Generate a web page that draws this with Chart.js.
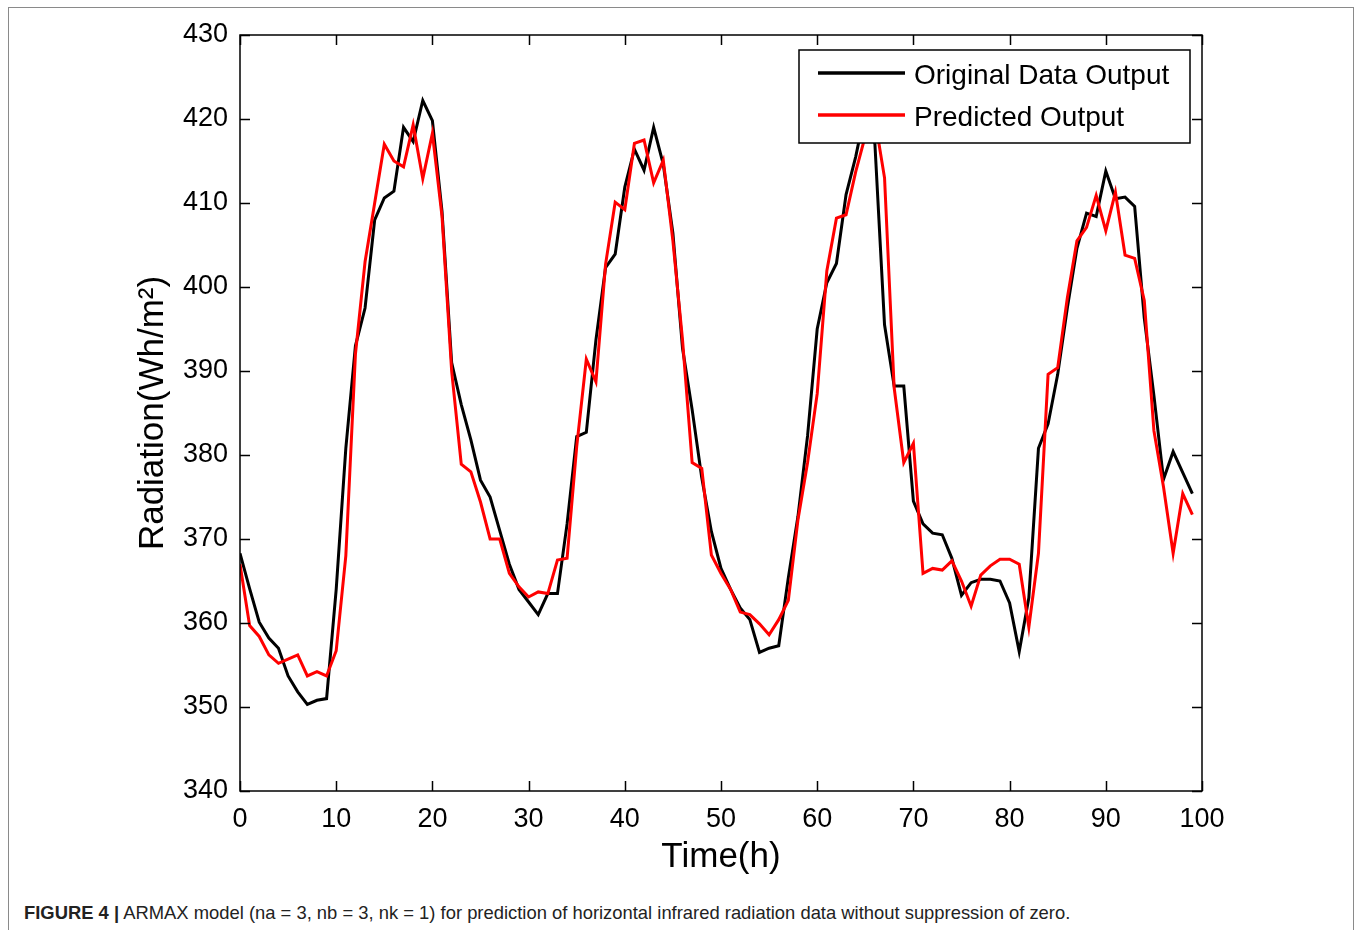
<!DOCTYPE html>
<html>
<head>
<meta charset="utf-8">
<script src="https://cdn.jsdelivr.net/npm/chart.js@4.4.1/dist/chart.umd.min.js"></script>
<style>
  body { margin: 0; background: #fff; }
  #frame { position: absolute; left: 8px; top: 7px; width: 1344px; height: 940px; border: 1px solid #8a8a8a; }
  #wrap { position: absolute; left: 0; top: 0; width: 1356px; height: 880px; }
  #caption { position: absolute; left: 24px; top: 902px; font-family: "Liberation Sans", Arial, sans-serif; font-size: 18.4px; color: #222; white-space: nowrap; }
  #caption b { font-weight: bold; }
</style>
</head>
<body>
<div id="frame"></div>
<div id="wrap"><canvas id="grafico" width="1356" height="880"></canvas></div>
<div id="caption"><b>FIGURE 4 |</b> ARMAX model (na = 3, nb = 3, nk = 1) for prediction of horizontal infrared radiation data without suppression of zero.</div>
<script>
// horas (eje x)
var HOURS = [0,1,2,3,4,5,6,7,8,9,10,11,12,13,14,15,16,17,18,19,
  20,21,22,23,24,25,26,27,28,29,30,31,32,33,34,35,36,37,38,39,
  40,41,42,43,44,45,46,47,48,49,50,51,52,53,54,55,56,57,58,59,
  60,61,62,63,64,65,66,67,68,69,70,71,72,73,74,75,76,77,78,79,
  80,81,82,83,84,85,86,87,88,89,90,91,92,93,94,95,96,97,98,99];

// datos originales
var ORIGINAL = [368.3,364.1,360.1,358.2,357,353.7,351.8,350.3,350.8,351,
  364,380.8,393,397.5,408,410.6,411.4,419,417.3,422.2,
  419.8,409,391,386,381.8,377,375,371,367,364,
  362.5,361,363.5,363.5,371.8,382.2,382.7,393.7,402.3,403.9,
  411.9,416.4,413.9,419,414.6,406.4,392.7,385.4,377.3,370.9,
  366.5,364,361.8,360.4,356.5,357,357.3,365.4,372.7,382.3,
  395,400.5,402.8,411,415.5,421,417,395.5,388.2,388.2,
  374.5,371.8,370.7,370.5,367.7,363.3,364.8,365.2,365.2,365,
  362.4,356.6,363,380.8,383.7,389.6,397.5,404.6,408.8,408.4,
  413.8,410.5,410.7,409.6,396.3,387.1,377.1,380.4,377.9,375.4];

// salida predicha
var PREDICTED = [367,359.7,358.4,356.2,355.2,355.7,356.2,353.7,354.2,353.7,
  356.7,368,392,403,410,417,415,414.3,419.3,412.9,
  418.3,408.4,390,378.9,378,374.4,370,370,365.9,364.3,
  363.1,363.7,363.5,367.5,367.7,381,391.4,388.7,402.7,410.1,
  409.2,417.1,417.5,412.4,415.1,405.5,393.7,379.1,378.4,368.1,
  365.9,364,361.3,361,359.9,358.6,360.4,362.7,372.3,379.1,
  387.3,401.9,408.2,408.6,413.7,418,420,413,388,379.1,
  381.4,365.9,366.5,366.3,367.4,365,362,365.7,366.8,367.6,
  367.6,367,359.5,368.3,389.6,390.4,398.7,405.5,407.1,410.9,
  406.7,411.3,403.8,403.4,398.4,382.9,376.2,368.3,375.4,372.9];

var X_TICKS = [0,10,20,30,40,50,60,70,80,90,100];
var Y_TICKS = [340,350,360,370,380,390,400,410,420,430];

function puntos(vals) {
  var out = [];
  for (var i = 0; i < vals.length; i++) out.push({x: HOURS[i], y: vals[i]});
  return out;
}

// ejes estilo matlab: marco, ticks hacia adentro y leyenda dentro del area
var matlabAxes = {
  id: 'matlabAxes',
  afterDatasetsDraw: function(chart) {
    var ctx = chart.ctx, a = chart.chartArea;
    var xs = chart.scales.x, ys = chart.scales.y;
    var tl = 10;
    ctx.save();
    ctx.strokeStyle = '#000';
    ctx.lineWidth = 1.5;
    ctx.strokeRect(a.left, a.top, a.right - a.left, a.bottom - a.top);
    ctx.beginPath();
    X_TICKS.forEach(function(v) {
      var px = Math.round(xs.getPixelForValue(v)) + 0.5;
      ctx.moveTo(px, a.bottom); ctx.lineTo(px, a.bottom - tl);
      ctx.moveTo(px, a.top); ctx.lineTo(px, a.top + tl);
    });
    Y_TICKS.forEach(function(v) {
      var py = Math.round(ys.getPixelForValue(v)) + 0.5;
      ctx.moveTo(a.left, py); ctx.lineTo(a.left + tl, py);
      ctx.moveTo(a.right, py); ctx.lineTo(a.right - tl, py);
    });
    ctx.stroke();

    // leyenda
    var bx = a.right - 403, by = a.top + 15, bw = 391, bh = 93;
    ctx.fillStyle = '#fff';
    ctx.fillRect(bx, by, bw, bh);
    ctx.lineWidth = 1.5;
    ctx.strokeRect(bx, by, bw, bh);
    ctx.font = '28px "Liberation Sans", Arial, sans-serif';
    ctx.textBaseline = 'middle';
    ctx.textAlign = 'left';
    chart.data.datasets.forEach(function(ds, i) {
      var ly = by + 23 + i * 42;
      ctx.strokeStyle = ds.borderColor;
      ctx.lineWidth = 3.5;
      ctx.beginPath();
      ctx.moveTo(bx + 19, ly); ctx.lineTo(bx + 106, ly);
      ctx.stroke();
      ctx.fillStyle = '#000';
      ctx.fillText(ds.label, bx + 115, ly + 3);
    });
    ctx.restore();
  }
};

var ctx = document.getElementById('grafico').getContext('2d');
window.myChart = new Chart(ctx, {
  type: 'line',
  data: {
    datasets: [{
      label: 'Original Data Output',
      data: puntos(ORIGINAL),
      borderColor: '#000000',
      borderWidth: 3,
      pointRadius: 0,
      tension: 0,
      order: 1
    }, {
      label: 'Predicted Output',
      data: puntos(PREDICTED),
      borderColor: '#ff0000',
      borderWidth: 3,
      pointRadius: 0,
      tension: 0,
      order: 0
    }]
  },
  options: {
    responsive: false,
    animation: false,
    layout: { padding: { left: 0, top: 35, right: 154, bottom: 0 } },
    plugins: { legend: { display: false }, tooltip: { enabled: false } },
    scales: {
      x: {
        type: 'linear', min: 0, max: 100,
        afterFit: function(s) { s.height = 89; },
        afterBuildTicks: function(s) { s.ticks = X_TICKS.map(function(v) { return {value: v}; }); },
        grid: { display: false, drawTicks: false },
        border: { display: false },
        ticks: { color: '#000', padding: 12, maxRotation: 0, autoSkip: false,
          font: { family: '"Liberation Sans", Arial, sans-serif', size: 27 } },
        title: { display: true, text: 'Time(h)', color: '#000', padding: { bottom: 2 },
          font: { family: '"Liberation Sans", Arial, sans-serif', size: 35 } }
      },
      y: {
        min: 340, max: 430,
        afterFit: function(s) { s.width = 240; },
        afterBuildTicks: function(s) { s.ticks = Y_TICKS.map(function(v) { return {value: v}; }); },
        grid: { display: false, drawTicks: false },
        border: { display: false },
        ticks: { color: '#000', padding: 12,
          font: { family: '"Liberation Sans", Arial, sans-serif', size: 27 } },
        title: { display: true, text: 'Radiation(Wh/m²)', color: '#000', padding: { top: 132 },
          font: { family: '"Liberation Sans", Arial, sans-serif', size: 35 } }
      }
    }
  },
  plugins: [matlabAxes]
});
</script>
</body>
</html>
